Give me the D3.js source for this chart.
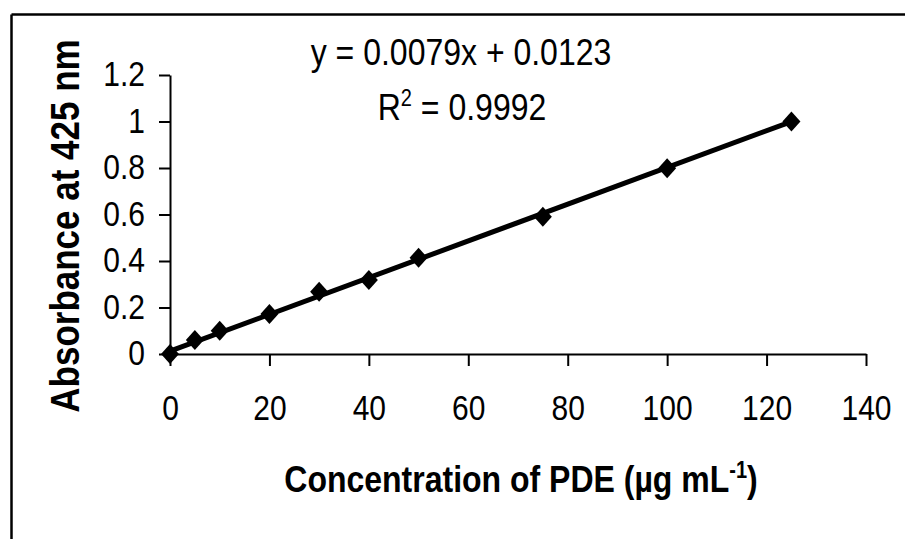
<!DOCTYPE html>
<html>
<head>
<meta charset="utf-8">
<script src="https://cdn.jsdelivr.net/npm/d3@7"></script>
<style>
  html, body { margin: 0; padding: 0; background: #fff; }
  svg { display: block; }
  text { font-family: "Liberation Sans", Arial, sans-serif; fill: #000; }
</style>
</head>
<body>
<svg id="chart" width="905" height="539"></svg>
<script>
// ---- data ----
const concentrations = [0, 5, 10, 20, 30, 40, 50, 75, 100, 125];
const absorbances   = [0.0, 0.06, 0.1, 0.172, 0.268, 0.318, 0.414, 0.59, 0.799, 1.0];
const xTicks = [0, 20, 40, 60, 80, 100, 120, 140];
const yTicks = [0, 0.2, 0.4, 0.6, 0.8, 1, 1.2];
const fitSlope = 0.0079;
const fitIntercept = 0.0123;
const fitRange = [0, 125];
const equationText = "y = 0.0079x + 0.0123";
const r2Text = "0.9992";
const xTitle = "Concentration of PDE (µg mL";
const yTitle = "Absorbance at 425 nm";

// ---- layout ----
const svg = d3.select("#chart");
const x = d3.scaleLinear().domain([0, 140]).range([170, 866]);
const y = d3.scaleLinear().domain([0, 1.2]).range([354, 75]);
const stretch = 1.16;

// outer frame (only top and left visible)
svg.append("line").attr("x1", 11.5).attr("x2", 910).attr("y1", 14.5).attr("y2", 14.5)
  .attr("stroke", "#000").attr("stroke-width", 2.5);
svg.append("line").attr("x1", 11.5).attr("x2", 11.5).attr("y1", 14.5).attr("y2", 545)
  .attr("stroke", "#000").attr("stroke-width", 2.5);

// y axis
const yAxis = svg.append("g").attr("transform", `translate(${x(0)},0)`)
  .call(d3.axisLeft(y).tickValues(yTicks).tickSize(11).tickSizeOuter(0).tickFormat(d => String(d)));
yAxis.select(".domain").attr("stroke", "#000").attr("stroke-width", 2);
yAxis.selectAll(".tick line").attr("stroke", "#000").attr("stroke-width", 2);
yAxis.selectAll(".tick text").attr("x", 0).attr("y", 0).attr("dy", 0)
  .attr("transform", `translate(-25,10.5) scale(1,${stretch})`)
  .style("font-size", "30px").attr("font-family", null);

// x axis
const xAxis = svg.append("g").attr("transform", `translate(0,${y(0)})`)
  .call(d3.axisBottom(x).tickValues(xTicks).tickSize(12).tickSizeOuter(0).tickFormat(d => String(d)));
xAxis.select(".domain").attr("stroke", "#000").attr("stroke-width", 2);
xAxis.selectAll(".tick line").attr("stroke", "#000").attr("stroke-width", 2);
xAxis.selectAll(".tick text").attr("y", 0).attr("dy", 0)
  .attr("transform", `translate(0,66) scale(1,${stretch})`)
  .style("font-size", "30px").attr("font-family", null);
svg.selectAll(".tick text").attr("fill", "#000");

// fit line
const fitLine = d3.line().x(d => x(d)).y(d => y(fitSlope * d + fitIntercept));
svg.append("path").datum(fitRange).attr("d", fitLine)
  .attr("fill", "none").attr("stroke", "#000").attr("stroke-width", 5);

// markers (diamonds)
const hw = 9, hh = 10;
svg.append("g").selectAll("path").data(concentrations).join("path")
  .attr("d", (d, i) => {
    const cx = x(d), cy = y(absorbances[i]);
    return `M${cx},${cy - hh}L${cx + hw},${cy}L${cx},${cy + hh}L${cx - hw},${cy}Z`;
  })
  .attr("fill", "#000");

// equation text
svg.append("text").attr("transform", `translate(461,65) scale(1,${stretch})`).attr("text-anchor", "middle")
  .style("font-size", "32px").text(equationText);
const r2 = svg.append("text").attr("transform", `translate(462,120) scale(1,${stretch})`).attr("text-anchor", "middle")
  .style("font-size", "32px");
r2.append("tspan").text("R");
r2.append("tspan").attr("dy", -12).style("font-size", "20px").text("2");
r2.append("tspan").attr("dy", 12).text(" = " + r2Text);

// axis titles
const xt = svg.append("text").attr("transform", `translate(521,492) scale(1,${stretch})`).attr("text-anchor", "middle")
  .style("font-size", "32px").style("font-weight", "bold");
xt.append("tspan").text(xTitle);
xt.append("tspan").attr("dy", -12).style("font-size", "20px").text("-1");
xt.append("tspan").attr("dy", 12).text(")");

svg.append("text").attr("transform", `translate(79,226) rotate(-90) scale(1,${stretch})`).attr("text-anchor", "middle")
  .style("font-size", "35px").style("font-weight", "bold").text(yTitle);
</script>
</body>
</html>
